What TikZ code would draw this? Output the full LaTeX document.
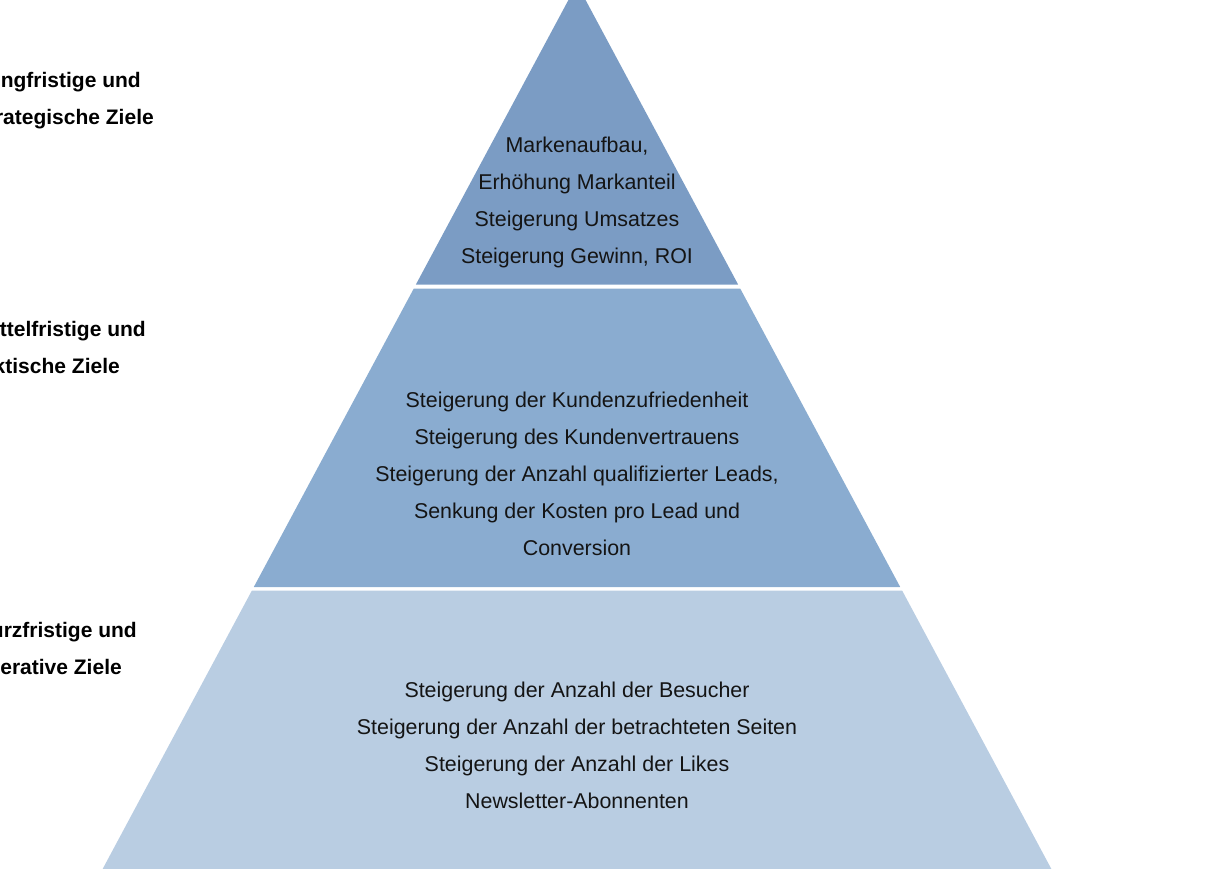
\documentclass[tikz,border=0pt]{standalone}
\usepackage{fontspec}
\setmainfont{Liberation Sans}
\definecolor{tierA}{HTML}{7B9CC4}
\definecolor{tierB}{HTML}{8AACD0}
\definecolor{tierC}{HTML}{B9CDE2}
\definecolor{txt}{HTML}{141414}
\tikzset{
  tierfill/.style={fill=#1, draw=none},
  tiertext/.style={text=txt, align=center, inner sep=0pt, font=\fontsize{21.4}{37}\selectfont},
  sidelabel/.style={text=black, inner sep=0pt, anchor=base east, font=\fontsize{21}{37}\selectfont\bfseries}
}
\begin{document}
\begin{tikzpicture}[x=1pt, y=-1pt]
\useasboundingbox (0,0) rectangle (1206,869);
% pyramid tiers
\fill[tierfill=tierA] (577,-16) -- (738.1,284.5) -- (415.9,284.5) -- cycle;
\fill[tierfill=tierB] (413.8,288.5) -- (740.2,288.5) -- (900.2,587) -- (253.8,587) -- cycle;
\fill[tierfill=tierC] (251.9,590.5) -- (902.1,590.5) -- (1054.6,875) -- (99.4,875) -- cycle;
% tier texts
\node[tiertext] (t1) at (577,202) {Markenaufbau,\\Erhöhung Markanteil\\Steigerung Umsatzes\\Steigerung Gewinn, ROI};
\node[tiertext] (t2) at (577,474) {Steigerung der Kundenzufriedenheit\\Steigerung des Kundenvertrauens\\Steigerung der Anzahl qualifizierter Leads,\\Senkung der Kosten pro Lead und\\Conversion};
\node[tiertext] (t3) at (577,745) {Steigerung der Anzahl der Besucher\\Steigerung der Anzahl der betrachteten Seiten\\Steigerung der Anzahl der Likes\\Newsletter-Abonnenten};
% side labels (cropped at the left edge in the original)
\node[sidelabel] (l1a) at (141,88) {ngfristige und};
\node[sidelabel] (l1b) at (154,125) {rategische Ziele};
\node[sidelabel] (l2a) at (146,336) {ttelfristige und};
\node[sidelabel] (l2b) at (120,373) {ktische Ziele};
\node[sidelabel] (l3a) at (137,637) {urzfristige und};
\node[sidelabel] (l3b) at (122,674) {erative Ziele};
\end{tikzpicture}
\end{document}
